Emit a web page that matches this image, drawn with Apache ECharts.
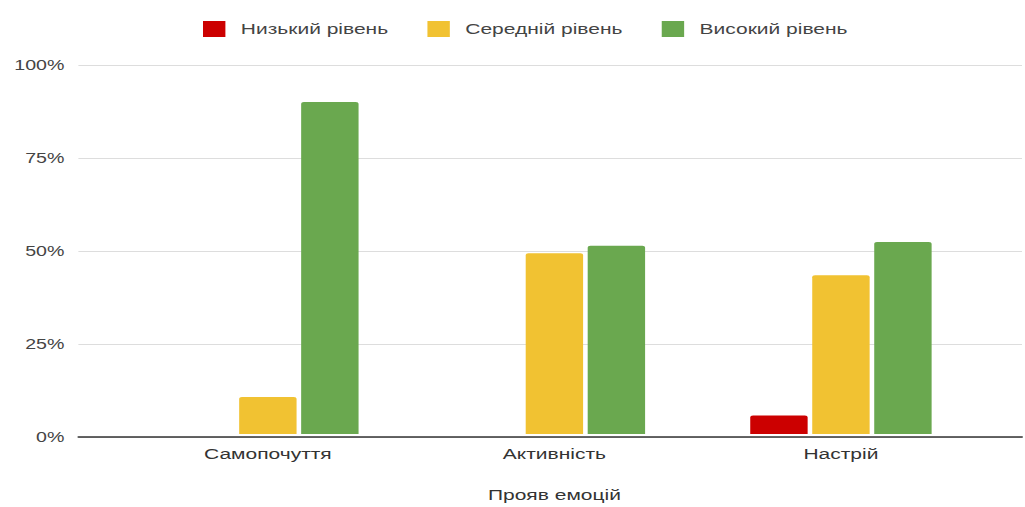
<!DOCTYPE html>
<html>
<head>
<meta charset="utf-8">
<script src="https://cdn.jsdelivr.net/npm/echarts@6/dist/echarts.min.js"></script>
<style>
  html, body { margin: 0; padding: 0; background: #ffffff; overflow: hidden; }
  /* the chart is laid out narrow and widened horizontally */
  #chart { width: 732px; height: 507px; transform: scaleX(1.4); transform-origin: 0 0; }
</style>
</head>
<body>
<div id="chart"></div>
<script>
// Categories and series values (percent)
const categories = ['Самопочуття', 'Активність', 'Настрій'];
const lowLevel = [0, 0, 5];
const midLevel = [10, 49, 43];
const highLevel = [90, 51, 52];
const seriesNames = ['Низький рівень', 'Середній рівень', 'Високий рівень'];
const seriesColors = ['#cc0000', '#f1c232', '#6aa84f'];
const axisTitle = 'Прояв емоцій';

const font = 'Arial, "Liberation Sans", sans-serif';
const chart = echarts.init(document.getElementById('chart'), null, { renderer: 'svg' });

const valueData = [lowLevel, midLevel, highLevel];

chart.setOption({
  animation: false,
  textStyle: { fontFamily: font },
  legend: {
    top: 16,
    left: 140,
    itemWidth: 16,
    itemHeight: 16,
    itemGap: 28,
    icon: 'rect',
    textStyle: { fontSize: 15, color: '#444444', fontFamily: font, padding: [0, 0, 0, 6] },
    data: seriesNames
  },
  grid: [
    // full-width grid: value axis labels, gridlines, baseline
    { left: 56, right: 2, top: 65, bottom: 70 },
    // inner grid holding the category bars
    { left: 89, right: 29, top: 65, bottom: 70 }
  ],
  xAxis: [
    {
      gridIndex: 0, type: 'category', data: [''], z: 10,
      axisLine: { show: true, lineStyle: { color: '#333333', width: 1.5 } },
      axisTick: { show: false }, axisLabel: { show: false }
    },
    {
      gridIndex: 1, type: 'category', data: categories,
      axisLine: { show: false }, axisTick: { show: false },
      axisLabel: { fontSize: 15, color: '#333333', margin: 12, fontFamily: font },
      name: axisTitle, nameLocation: 'middle', nameGap: 53,
      nameTextStyle: { fontSize: 15, color: '#333333', fontFamily: font }
    }
  ],
  yAxis: [
    {
      gridIndex: 0, type: 'value', min: 0, max: 100, interval: 25,
      axisLine: { show: false }, axisTick: { show: false },
      axisLabel: { formatter: '{value}%', fontSize: 14, color: '#444444', margin: 10, fontFamily: font },
      splitLine: { lineStyle: { color: '#dddddd', width: 1 } }
    },
    {
      gridIndex: 1, type: 'value', min: 0, max: 100, interval: 25,
      axisLine: { show: false }, axisTick: { show: false },
      axisLabel: { show: false }, splitLine: { show: false }
    }
  ],
  series: seriesNames.map((name, i) => ({
    name: name,
    type: 'bar',
    xAxisIndex: 1,
    yAxisIndex: 1,
    data: valueData[i],
    barWidth: 41,
    barGap: '8%',
    itemStyle: { color: seriesColors[i], borderRadius: [2, 2, 0, 0] },
    z: 3
  }))
});
</script>
</body>
</html>
